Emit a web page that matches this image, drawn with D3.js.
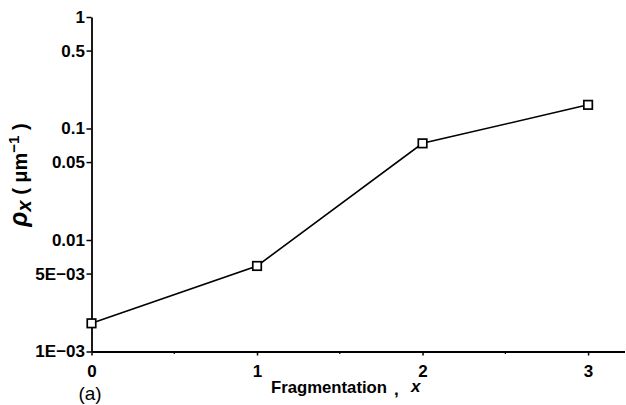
<!DOCTYPE html>
<html>
<head>
<meta charset="utf-8">
<script src="https://cdn.jsdelivr.net/npm/d3@7"></script>
<style>
  html, body { margin: 0; padding: 0; background: #fff; }
  svg { display: block; }
  text { font-family: "Liberation Sans", Arial, sans-serif; font-weight: bold; fill: #000; }
</style>
</head>
<body>
<svg id="chart" width="626" height="405"></svg>
<script>
// ---- data ----
const categories = [0, 1, 2, 3];
const rhoValues = [0.00179, 0.00585, 0.0736, 0.163];
const xTickValues = [0, 1, 2, 3];
const xMinorTicks = [0.5, 1.5, 2.5];
const yTickValues = [1, 0.5, 0.1, 0.05, 0.01, 0.005, 0.001];
const yTickLabels = ["1", "0.5", "0.1", "0.05", "0.01", "5E\u221203", "1E\u221203"];
const xLabel = "Fragmentation";
const panelLabel = "(a)";

// ---- layout ----
const svg = d3.select("#chart");
const x = d3.scaleLinear().domain([0, 3.22]).range([91.5, 624.5]);
const y = d3.scaleLog().domain([0.001, 1]).range([351.5, 17]);
const FONT = "Liberation Sans, Arial, sans-serif";

// x axis
const xAxis = d3.axisBottom(x)
  .tickValues(xTickValues)
  .tickFormat(d3.format("d"))
  .tickSizeInner(4).tickSizeOuter(0).tickPadding(9);
const gx = svg.append("g").attr("transform", `translate(0,${y(0.001)})`).call(xAxis);
gx.select(".domain").attr("stroke", "#000").attr("stroke-width", 1.8);
gx.selectAll(".tick line").attr("stroke", "#000").attr("stroke-width", 1.5);
gx.selectAll(".tick text").style("font-size", "17px").style("font-family", FONT).style("font-weight", "bold");
gx.selectAll(".minor").data(xMinorTicks).enter().append("line")
  .attr("class", "minor")
  .attr("x1", d => x(d)).attr("x2", d => x(d))
  .attr("y1", 0).attr("y2", 2.5)
  .attr("stroke", "#000").attr("stroke-width", 1.2);

// y axis
const yAxis = d3.axisLeft(y)
  .tickValues(yTickValues)
  .tickFormat((d, i) => yTickLabels[i])
  .tickSizeInner(5).tickSizeOuter(0).tickPadding(1.5);
const gy = svg.append("g").attr("transform", `translate(${x(0)},0)`).call(yAxis);
gy.select(".domain").attr("stroke", "#000").attr("stroke-width", 1.8);
gy.selectAll(".tick line").attr("stroke", "#000").attr("stroke-width", 1.5);
gy.selectAll(".tick text").style("font-size", "17px").style("font-family", FONT).style("font-weight", "bold");

// line
const line = d3.line().x((d, i) => x(categories[i])).y(d => y(d));
svg.append("path").datum(rhoValues)
  .attr("d", line)
  .attr("fill", "none").attr("stroke", "#000").attr("stroke-width", 1.6);

// markers
const ms = 8.5;
svg.selectAll(".mk").data(rhoValues).enter().append("rect")
  .attr("class", "mk")
  .attr("x", (d, i) => x(categories[i]) - ms / 2)
  .attr("y", d => y(d) - ms / 2)
  .attr("width", ms).attr("height", ms)
  .attr("fill", "#fff").attr("stroke", "#000").attr("stroke-width", 1.7);

// x label
svg.append("text").attr("x", 271).attr("y", 393)
  .attr("textLength", 116).attr("lengthAdjust", "spacingAndGlyphs")
  .style("font-size", "17px").text(xLabel);
svg.append("text").attr("x", 394).attr("y", 395).style("font-size", "17px").text(",");
svg.append("text").attr("x", 411).attr("y", 392).attr("font-style", "italic").style("font-size", "17px").text("x");

// panel label
svg.append("text").attr("x", 90).attr("y", 400).attr("text-anchor", "middle")
  .style("font-size", "19px").style("font-weight", "normal").text(panelLabel);

// y label
const yl = svg.append("text")
  .attr("transform", "translate(27,175) rotate(-90)")
  .attr("text-anchor", "middle")
  .style("font-size", "20px");
yl.append("tspan").attr("font-style", "italic").style("font-size", "25px").text("\u03C1");
yl.append("tspan").attr("font-style", "italic").attr("dy", 4).text("x");
yl.append("tspan").attr("dy", -4).text("  (  \u03BCm");
yl.append("tspan").attr("dy", -8).style("font-size", "15px").text("\u22121");
yl.append("tspan").attr("dy", 8).text(" )");
</script>
</body>
</html>
